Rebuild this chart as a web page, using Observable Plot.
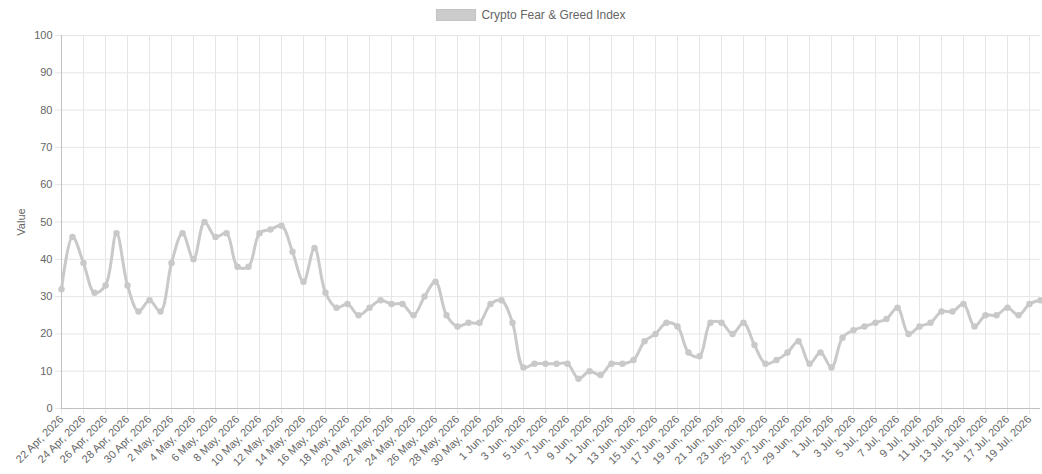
<!DOCTYPE html>
<html>
<head>
<meta charset="utf-8">
<script src="https://cdn.jsdelivr.net/npm/d3@7"></script>
<script src="https://cdn.jsdelivr.net/npm/@observablehq/plot@0.6"></script>
<style>
  html, body { margin: 0; padding: 0; background: #fff; }
  #legend { height: 30px; display: flex; justify-content: center; align-items: center;
    font: 12px "Liberation Sans", Arial, Helvetica, sans-serif; color: #666; padding-left: 20px; box-sizing: border-box; }
  #legend .box { display: inline-block; width: 40px; height: 12px; background: #cccccc; border: 1px solid #c4c4c4; margin-right: 5px; box-sizing: border-box; }
  svg text { -webkit-font-smoothing: antialiased; }
</style>
</head>
<body>
<div id="legend"><span class="box"></span><span>Crypto Fear &amp; Greed Index</span></div>
<div id="chart"></div>
<script>
const seriesName = "Crypto Fear & Greed Index";
const startDate = "2026-04-22";
const values = [32,46,39,31,33,47,33,26,29,26,
                39,47,40,50,46,47,38,38,47,48,
                49,42,34,43,31,27,28,25,27,29,
                28,28,25,30,34,25,22,23,23,28,
                29,23,11,12,12,12,12,8,10,9,
                12,12,13,18,20,23,22,15,14,23,
                23,20,23,17,12,13,15,18,12,15,
                11,19,21,22,23,24,27,20,22,23,
                26,26,28,22,25,25,27,25,28,29];
const yTicks = [0,10,20,30,40,50,60,70,80,90,100];

const fmt = d3.utcFormat("%-d %b, %Y");
const start = new Date(startDate + "T00:00:00Z");
const categories = values.map((_, i) => fmt(d3.utcDay.offset(start, i)));
const tickLabels = categories.filter((_, i) => i % 2 === 0);
const data = values.map((v, i) => ({label: categories[i], value: v}));

const lineColor = "#c9c9c9";
const gridColor = "#e6e6e6";

const chart = Plot.plot({
  width: 1042,
  height: 444,
  marginTop: 5,
  marginBottom: 66,
  marginLeft: 61,
  marginRight: 2,
  style: {fontFamily: "'Liberation Sans', Arial, Helvetica, sans-serif", fontSize: "12px", color: "#666", background: "#fff"},
  x: {type: "point", domain: categories, padding: 0},
  y: {domain: [0, 100]},
  marks: [
    Plot.gridY(yTicks, {stroke: gridColor, strokeOpacity: 1}),
    Plot.gridX(tickLabels, {stroke: gridColor, strokeOpacity: 1}),
    Plot.axisY(yTicks, {tickSize: 6, tickPadding: 3, stroke: gridColor, fill: "#666",
      label: "Value", labelAnchor: "center", labelArrow: "none", labelOffset: 44, fontSize: 11}),
    Plot.axisX(tickLabels, {tickRotate: -45, tickSize: 6, tickPadding: 3, stroke: gridColor, fill: "#666", fontSize: 11, label: null}),
    Plot.ruleY([0], {stroke: "#c0c0c0"}),
    Plot.ruleX([categories[0]], {stroke: "#c0c0c0"}),
    Plot.line(data, {x: "label", y: "value", stroke: lineColor, strokeWidth: 3, curve: "catmull-rom"}),
    Plot.dot(data, {x: "label", y: "value", r: 2.5, fill: lineColor, stroke: lineColor})
  ]
});
document.getElementById("chart").appendChild(chart);
</script>
</body>
</html>
